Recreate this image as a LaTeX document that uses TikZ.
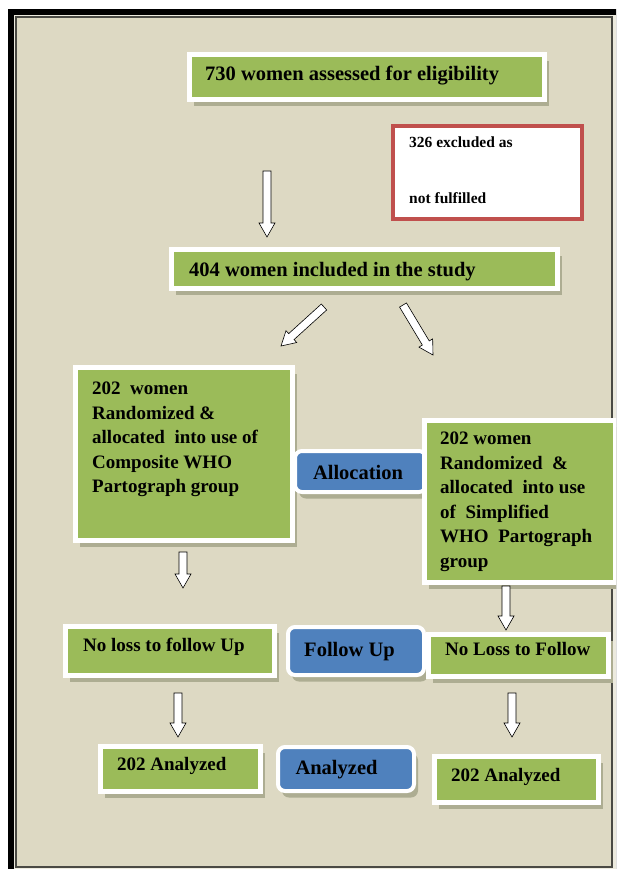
\documentclass[tikz,border=0pt]{standalone}
\usepackage{fontspec}
\setmainfont{Liberation Serif}
\usetikzlibrary{positioning}
\usetikzlibrary{calc, shadows}

\definecolor{pagetan}{HTML}{DDD9C3}
\definecolor{boxgreen}{HTML}{9BBB59}
\definecolor{boxblue}{HTML}{4F81BD}
\definecolor{boxred}{HTML}{C0504D}
\definecolor{boxshade}{HTML}{ADAD92}
\definecolor{frameline}{HTML}{4A4A44}

\tikzset{
  greenbox/.style={draw=white, line width=5pt, fill=boxgreen, inner sep=0pt, anchor=north west,
    drop shadow={shadow xshift=4pt, shadow yshift=-6.5pt, fill=boxshade, opacity=1}},
  bluebox/.style={greenbox, fill=boxblue, rounded corners=7pt, line width=4pt},
  exclbox/.style={draw=boxred, line width=4pt, fill=white, inner sep=0pt, anchor=north west},
  boxtext/.style={font=\fontsize{19}{24.5}\selectfont\bfseries, text=black, inner sep=0pt, align=left},
  headtext/.style={boxtext, font=\fontsize{20.5}{24}\selectfont\bfseries},
  smalltext/.style={boxtext, font=\fontsize{15.5}{18}\selectfont\bfseries},
  blockarrow/.style={draw=black, fill=white, line width=0.6pt, line join=miter,
    to path={($(\tikztostart)!4pt!-90:(\tikztotarget)$)
      -- ($(\tikztotarget)!14pt!(\tikztostart)!4pt!90:(\tikztostart)$)
      -- ($(\tikztotarget)!14pt!(\tikztostart)!8pt!90:(\tikztostart)$)
      -- (\tikztotarget)
      -- ($(\tikztotarget)!14pt!(\tikztostart)!8pt!-90:(\tikztostart)$)
      -- ($(\tikztotarget)!14pt!(\tikztostart)!4pt!-90:(\tikztostart)$)
      -- ($(\tikztostart)!4pt!90:(\tikztotarget)$) -- cycle}}
}

\begin{document}
\begin{tikzpicture}[x=1pt, y=-1pt]
\useasboundingbox (0,0) rectangle (616,869);
\clip (0,0) rectangle (616,869);
\fill[white] (0,0) rectangle (616,869);
\fill[black] (8,9) rectangle (624,878);
\fill[pagetan!55!white] (14,15) rectangle (616,869);
\draw[frameline, line width=1.2pt, fill=pagetan] (16,17) rectangle (612,867);

\node[greenbox, minimum width=355pt, minimum height=45pt] (elig) at (187,52) {};
\node[headtext, anchor=base west] (eligtxt) at (205,81) {730 women assessed for eligibility};

\node[exclbox, minimum width=189pt, minimum height=93pt] (excl) at (391,124) {};
\node[smalltext, anchor=base west] (excltxta) at (409,148) {326 excluded as};
\node[smalltext, anchor=base west] (excltxtb) at (409,204) {not fulfilled};

\node[greenbox, minimum width=386pt, minimum height=39pt] (incl) at (169,247) {};
\node[headtext, anchor=base west] (incltxt) at (189,276) {404 women included in the study};

\node[greenbox, minimum width=217pt, minimum height=173pt] (comp) at (73,365) {};
\node[boxtext, anchor=north west] (comptxt) at (92,382) {202~ women\\Randomized \&\\allocated~ into use of\\Composite WHO\\Partograph group};

\node[bluebox, minimum width=131pt, minimum height=41pt] (alloc) at (293,449) {};
\node[headtext] (alloctxt) at (358,472) {Allocation};

\node[greenbox, minimum width=191pt, minimum height=162pt] (simp) at (422,418) {};
\node[boxtext, anchor=north west] (simptxt) at (440,432) {202 women\\Randomized~ \&\\allocated~ into use\\of~ Simplified\\WHO~ Partograph\\group};

\node[greenbox, minimum width=209pt, minimum height=49pt] (nofuL) at (63,624) {};
\node[boxtext, anchor=base west] (nofuLtxt) at (83,651) {No loss to follow Up};

\node[bluebox, minimum width=136pt, minimum height=48pt] (fuB) at (286,625) {};
\node[headtext] (fuBtxt) at (349.5,652) {Follow Up};

\node[greenbox, minimum width=180pt, minimum height=42pt] (nofuR) at (426,632) {};
\node[boxtext, anchor=base west] (nofuRtxt) at (445,655) {No Loss to Follow};

\node[greenbox, minimum width=160pt, minimum height=45pt] (anaL) at (98,744) {};
\node[boxtext, anchor=base west] (anaLtxt) at (117,770) {202 Analyzed};

\node[bluebox, minimum width=136pt, minimum height=44pt] (anaB) at (276,745) {};
\node[headtext] (anaBtxt) at (336.5,770) {Analyzed};

\node[greenbox, minimum width=164pt, minimum height=46pt] (anaR) at (432,754) {};
\node[boxtext, anchor=base west] (anaRtxt) at (451,781) {202 Analyzed};

\coordinate (a1s) at (267,171); \coordinate (a1e) at (267,237);
\coordinate (a2s) at (324,307); \coordinate (a2e) at (281,346);
\coordinate (a3s) at (403,305); \coordinate (a3e) at (433,355);
\coordinate (a4s) at (183,552); \coordinate (a4e) at (183,588);
\coordinate (a5s) at (506,586); \coordinate (a5e) at (506,630);
\coordinate (a6s) at (178,693); \coordinate (a6e) at (178,737);
\coordinate (a7s) at (512,693); \coordinate (a7e) at (512,737);

\draw[blockarrow] (a1s) to (a1e);
\draw[blockarrow] (a2s) to (a2e);
\draw[blockarrow] (a3s) to (a3e);
\draw[blockarrow] (a4s) to (a4e);
\draw[blockarrow] (a5s) to (a5e);
\draw[blockarrow] (a6s) to (a6e);
\draw[blockarrow] (a7s) to (a7e);

\end{tikzpicture}
\end{document}
